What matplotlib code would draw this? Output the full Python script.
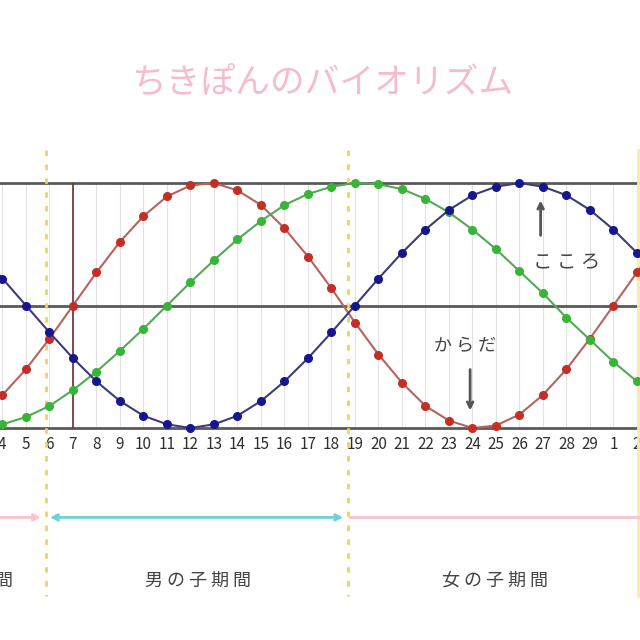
import numpy as np
import matplotlib
matplotlib.use('Agg')
import matplotlib.pyplot as plt

plt.rcParams['font.family'] = ['Noto Sans CJK JP', 'DejaVu Sans']

# Days shown along the bottom (the first and last ones fall just outside the frame).
days = [3, 4, 5, 6, 7, 8, 9, 10, 11, 12, 13, 14, 15, 16, 17, 18, 19, 20,
        21, 22, 23, 24, 25, 26, 27, 28, 29, 1, 2, 3]

# からだ (red), こころ (blue) and the green one.
body = [-0.89, -0.73, -0.52, -0.27, 0.0, 0.27, 0.52, 0.73, 0.89, 0.98,
        1.0, 0.94, 0.82, 0.63, 0.4, 0.14, -0.14, -0.4, -0.63, -0.82,
        -0.94, -1.0, -0.98, -0.89, -0.73, -0.52, -0.27, 0.0, 0.27, 0.52]
heart = [0.43, 0.22, 0.0, -0.22, -0.43, -0.62, -0.78, -0.9, -0.97, -1.0,
         -0.97, -0.9, -0.78, -0.62, -0.43, -0.22, 0.0, 0.22, 0.43, 0.62,
         0.78, 0.9, 0.97, 1.0, 0.97, 0.9, 0.78, 0.62, 0.43, 0.22]
mind = [-1.0, -0.97, -0.91, -0.82, -0.69, -0.54, -0.37, -0.19, 0.0, 0.19,
        0.37, 0.54, 0.69, 0.82, 0.91, 0.97, 1.0, 0.99, 0.95, 0.87,
        0.76, 0.62, 0.46, 0.28, 0.1, -0.1, -0.28, -0.46, -0.62, -0.76]

period_start = [6, 19, 2]      # boundaries of the boy / girl periods
today = 7

x = np.arange(len(days)) - 1   # day 4 sits at 0


def pos(day, after=0):
    # index of a day in the list, searching from `after`
    return days.index(day, after) - 1


fig = plt.figure(figsize=(6.4, 6.4), dpi=100)
ax = fig.add_axes([0, 212 / 640, 1, 245 / 640])
for s in ax.spines.values():
    s.set_visible(False)

# light day grid
for xi in x:
    ax.axvline(xi, color='#e2e2e2', lw=0.8, zorder=0)

for yv in (-1, 0, 1):
    ax.axhline(yv, color='#5a5a5a', lw=2.0, zorder=1, clip_on=False)
ax.plot([pos(today)] * 2, [-1, 1], color='#7b3a3a', lw=1.3, zorder=1)

style = dict(lw=1.5, marker='o', markersize=5.5, clip_on=False, zorder=3)
ax.plot(x, body, color='#b8625c', mfc='#c42e24', mec='#c42e24', **style)
ax.plot(x, mind, color='#55a855', mfc='#37b537', mec='#37b537', **style)
ax.plot(x, heart, color='#3c3c78', mfc='#16168f', mec='#16168f', **style)

ax.set_xticks(x)
ax.set_xticklabels(days)
ax.tick_params(axis='x', length=0, pad=6, labelsize=11, labelcolor='#2e2e2e')
ax.set_yticks([])
# limits after the ticks, so the ticks do not widen the view
ax.set_xlim(-0.106, 27.13)
ax.set_ylim(-1, 1)

# title
ax.text(13.6, 1.82, 'ちきぽんのバイオリズム', color='#f5bccb', fontsize=25,
        ha='center', va='center', clip_on=False)

# labels with arrows
ax.annotate('', xy=(22.9, 0.88), xytext=(22.9, 0.55),
            arrowprops=dict(arrowstyle='->', color='#555555', lw=2))
ax.text(24.0, 0.35, 'こ こ ろ', fontsize=14, color='#444444',
        ha='center', va='center')
ax.text(19.7, -0.33, 'か ら だ', fontsize=13, color='#444444',
        ha='center', va='center')
ax.annotate('', xy=(19.9, -0.88), xytext=(19.9, -0.5),
            arrowprops=dict(arrowstyle='->', color='#555555', lw=2))

# yellow period boundaries
b1 = pos(period_start[0]) - 0.15
b2 = pos(period_start[1]) - 0.28
b3 = pos(period_start[2], 20) + 0.05
for b in (b1, b2):
    ax.plot([b, b], [1.27, -2.37], color='#f3d060', lw=2,
            ls=(0, (2, 3)), clip_on=False, zorder=2)
ax.plot([b3, b3], [1.27, -2.37], color='#fbeaa8', lw=2, clip_on=False, zorder=2)

# period arrows under the axis
yarr = -1.73
ax.annotate('', xy=(b1 - 0.1, yarr), xytext=(-0.5, yarr), annotation_clip=False,
            arrowprops=dict(arrowstyle='->', color='#f7c3cd', lw=2))
ax.annotate('', xy=(b1 + 0.05, yarr), xytext=(b2 - 0.1, yarr), annotation_clip=False,
            arrowprops=dict(arrowstyle='<->', color='#6cd3d3', lw=2))
ax.plot([b2 + 0.05, 28], [yarr, yarr], color='#f7c3cd', lw=2, clip_on=False)

ylab = -2.245
ax.text(0.45, ylab, '女 の 子 期 間', fontsize=13, color='#444444',
        ha='right', va='center', clip_on=False)
ax.text(8.32, ylab, '男 の 子 期 間', fontsize=13, color='#444444',
        ha='center', va='center', clip_on=False)
ax.text(20.96, ylab, '女 の 子 期 間', fontsize=13, color='#444444',
        ha='center', va='center', clip_on=False)

fig.savefig('out.png', dpi=100)
